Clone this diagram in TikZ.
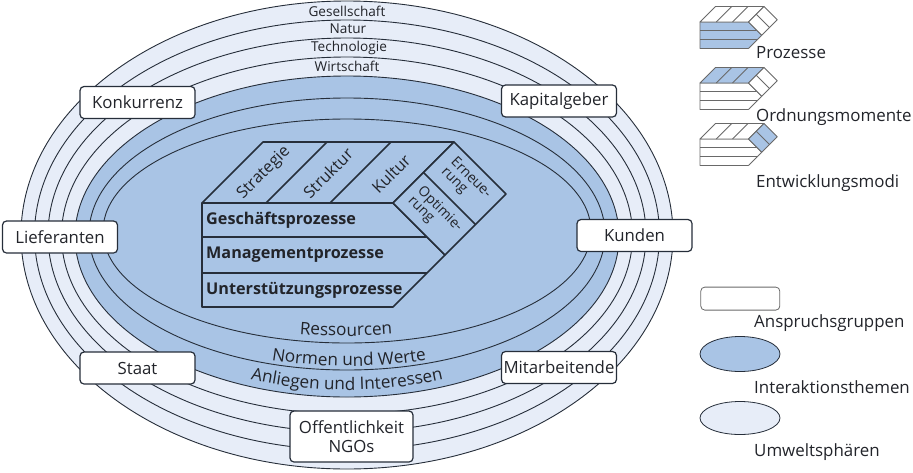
\documentclass[tikz,border=0pt]{standalone}
\usepackage{fontspec}
\setmainfont{Open Sans}
\usepackage{tikz}
\usetikzlibrary{shapes.geometric, decorations.text}
\definecolor{ringdark}{RGB}{169,196,229}
\definecolor{ringlight}{RGB}{231,237,248}
\definecolor{inkline}{RGB}{38,46,58}
\definecolor{inktext}{RGB}{34,36,42}
\definecolor{icongray}{RGB}{105,105,105}
\tikzstyle{ring} = [draw=inkline, line width=0.9pt]
\tikzstyle{groupbox} = [rectangle, draw=inkline, line width=1.2pt, rounded corners=4pt, fill=white, minimum width=115pt, minimum height=32pt, text=inktext, font=\fontsize{16.8}{19.5}\selectfont, inner sep=2pt]

% prism: front fill, top fill, side fill
\newcommand{\prism}[3]{%
  \filldraw[fill=#1] (0,0) -- (191,0) -- (243,52) -- (191,104) -- (0,104) -- cycle;
  \draw (0,34) -- (225,34) (0,70) -- (225,70);
  \filldraw[fill=#2] (0,0) -- (61,-61) -- (252,-61) -- (191,0) -- cycle;
  \draw (64,0) -- (125,-61) (128,0) -- (189,-61);
  \filldraw[fill=#3] (191,0) -- (252,-61) -- (304,-9) -- (243,52) -- cycle;
  \draw (221.5,-30.5) -- (273.5,21.5);}

\begin{document}
\begin{tikzpicture}[
    x=1pt, y=-1pt,
    ringlabel/.style={text=inktext, font=\fontsize{13.6}{15}\selectfont, inner sep=0pt},
    proclabel/.style={anchor=west, text=inktext, font=\fontsize{16.2}{18}\selectfont\bfseries, inner sep=0pt},
    facelabel/.style={text=inktext, font=\fontsize{16.3}{18}\selectfont, inner sep=0pt, rotate=45},
    modelabel/.style={text=inktext, font=\fontsize{14}{13.5}\selectfont, inner sep=0pt, rotate=-45, align=left},
    legtext/.style={anchor=west, text=inktext, font=\fontsize{16.9}{19}\selectfont, inner sep=0pt},
    arclabel/.style={decorate, decoration={text along path, text align=center, text color=inktext}}
  ]
    \useasboundingbox (0,0) rectangle (913,472);

    % Umweltsphaeren
    \filldraw[ring, fill=ringlight] (347,235) ellipse [x radius=326, y radius=234];
    \draw[ring] (347,235) ellipse [x radius=312.5, y radius=215];
    \draw[ring] (347,235) ellipse [x radius=299, y radius=197];
    \draw[ring] (347,235.5) ellipse [x radius=285.5, y radius=178.5];
    \node[ringlabel] (gesell) at (347,11) {Gesellschaft};
    \node[ringlabel] (natur) at (348,29) {Natur};
    \node[ringlabel] (techno) at (349,48) {Technologie};
    \node[ringlabel] (wirtsch) at (347,66) {Wirtschaft};

    % Interaktionsthemen
    \filldraw[ring, fill=ringdark] (347,236.5) ellipse [x radius=272, y radius=160.5];
    \draw[ring] (347,234) ellipse [x radius=258, y radius=136];
    \draw[ring] (347,231) ellipse [x radius=244, y radius=112];
    \path[arclabel, decoration={text={|\fontsize{17.2}{19}\selectfont|Ressourcen}}]
      ([shift={(120:244 and 101)}]346,235) arc [start angle=120, end angle=60, x radius=244, y radius=101];
    \path[arclabel, decoration={text={|\fontsize{17.2}{19}\selectfont|Normen und Werte}}]
      ([shift={(125:258 and 131)}]349,235) arc [start angle=125, end angle=55, x radius=258, y radius=131];
    \path[arclabel, decoration={text={|\fontsize{17.2}{19}\selectfont|Anliegen und Interessen}}]
      ([shift={(130:264 and 155)}]347,235) arc [start angle=130, end angle=50, x radius=264, y radius=155];

    % Prozessblock
    \coordinate (pb) at (202,203);
    \begin{scope}[shift={(pb)}, color=inkline, line width=1.6pt, line join=round]
      \prism{ringdark}{ringdark}{ringdark}
    \end{scope}
    \node[proclabel] (gp) at (206,220) {Geschäftsprozesse};
    \node[proclabel] (mp) at (206,255) {Managementprozesse};
    \node[proclabel] (up) at (206,290) {Unterstützungsprozesse};
    \node[facelabel] (strat) at (264,173) {Strategie};
    \node[facelabel] (strukt) at (328,173) {Struktur};
    \node[facelabel] (kult) at (391,174) {Kultur};
    \node[modelabel] (erneu) at (466,183) {Erneue-\\rung};
    \node[modelabel] (optim) at (435,214) {Optimie-\\rung};

    % Anspruchsgruppen
    \node[groupbox] (konk) at (137.5,102.5) {Konkurrenz};
    \node[groupbox] (kapital) at (559,101) {Kapitalgeber};
    \node[groupbox] (liefer) at (60,237) {Lieferanten};
    \node[groupbox] (kunden) at (634.5,235.5) {Kunden};
    \node[groupbox] (staat) at (137.5,368) {Staat};
    \node[groupbox] (mitarb) at (559,367.5) {Mitarbeitende};
    \node[groupbox, minimum width=123pt, minimum height=51pt, align=center] (oeff) at (351.5,436.5) {Offentlichkeit\\NGOs};

    % Legende
    \begin{scope}[shift={(700,22)}, scale=0.254, color=icongray, line width=0.8pt, line join=round]
      \prism{ringdark}{white}{white}
    \end{scope}
    \begin{scope}[shift={(700,83)}, scale=0.254, color=icongray, line width=0.8pt, line join=round]
      \prism{white}{ringdark}{white}
    \end{scope}
    \begin{scope}[shift={(700,139)}, scale=0.254, color=icongray, line width=0.8pt, line join=round]
      \prism{white}{white}{ringdark}
    \end{scope}
    \node[legtext] (lgproz) at (756,53) {Prozesse};
    \node[legtext] (lgordn) at (756,117) {Ordnungsmomente};
    \node[legtext] (lgentw) at (756,183) {Entwicklungsmodi};

    \node[draw=icongray, line width=0.8pt, rounded corners=4pt, fill=white, minimum width=79pt, minimum height=23pt] (lgbox) at (740.3,298.6) {};
    \node[ellipse, draw=inkline, line width=0.8pt, fill=ringdark, minimum width=80pt, minimum height=35pt, inner sep=0pt] (lgdark) at (740,354) {};
    \node[ellipse, draw=inkline, line width=0.8pt, fill=ringlight, minimum width=80pt, minimum height=33pt, inner sep=0pt] (lglight) at (740,418) {};
    \node[legtext] (lgans) at (754,323) {Anspruchsgruppen};
    \node[legtext] (lgint) at (754,387) {Interaktionsthemen};
    \node[legtext] (lgumw) at (754,452) {Umweltsphären};
  \end{tikzpicture}
\end{document}
